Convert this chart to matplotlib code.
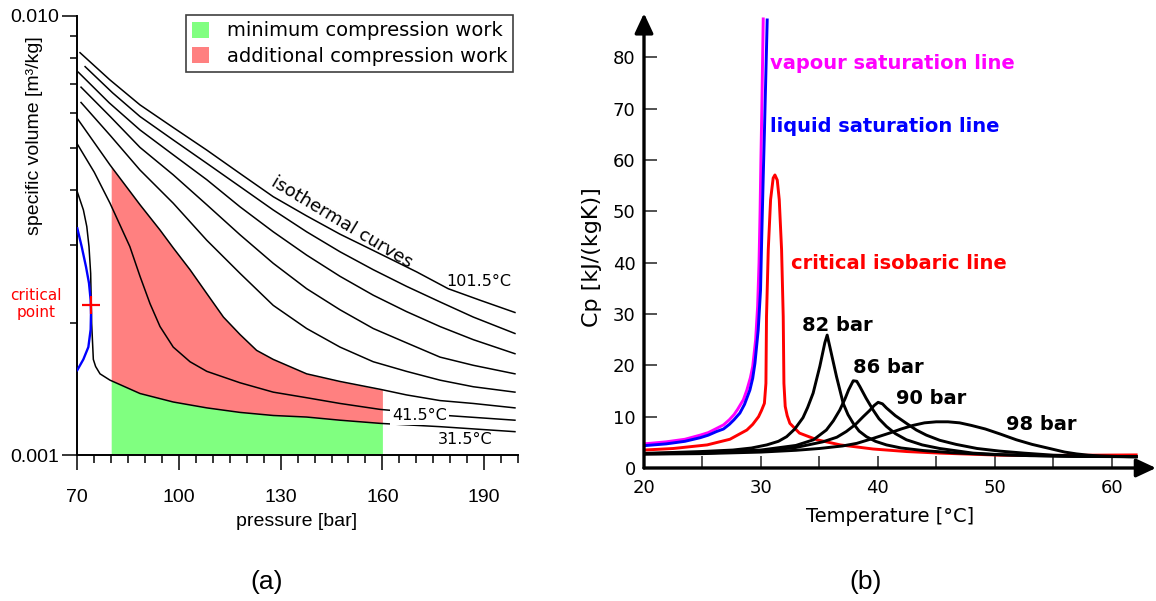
import numpy as np
import matplotlib
matplotlib.use('Agg')
import matplotlib.pyplot as plt
from matplotlib.patches import Patch
from matplotlib.ticker import MultipleLocator, LogLocator, NullFormatter

# ---- (a) specific volume vs pressure, isotherms ----
# pressure in bar, specific volume in 1e-3 m3/kg
p_315 = [70.0, 71.8, 72.8, 73.45, 73.94, 74.1, 74.24, 74.73, 75.4, 76.7, 79.65, 88.5, 98.3,
         108.2, 118.0, 127.8, 137.65, 147.5, 159.5, 177.0, 199.1]
v_315 = [3.97, 3.61, 3.31, 2.98, 2.59, 2.25, 1.99, 1.65, 1.59, 1.53, 1.48, 1.38, 1.32,
         1.28, 1.25, 1.23, 1.22, 1.20, 1.18, 1.16, 1.13]

p_415 = [70.0, 75.0, 79.65, 85.5, 88.5, 91.45, 94.4, 98.3, 103.25, 108.2, 118.0, 127.8, 137.65,
         147.5, 159.3, 178.9, 199.1]
v_415 = [5.10, 4.40, 3.74, 2.98, 2.55, 2.21, 1.96, 1.76, 1.63, 1.55, 1.46, 1.39, 1.35,
         1.31, 1.27, 1.23, 1.20]

p_515 = [70.0, 79.65, 88.5, 94.4, 98.3, 103.25, 108.2, 113.1, 118.0, 122.9, 127.8, 137.65,
         147.5, 159.5, 167.1, 177.0, 186.8, 199.1]
v_515 = [5.83, 4.57, 3.71, 3.25, 2.96, 2.64, 2.33, 2.06, 1.88, 1.73, 1.65, 1.53,
         1.47, 1.41, 1.37, 1.33, 1.31, 1.28]

p_615 = [71.1, 79.85, 88.5, 98.3, 108.2, 118.0, 127.8, 137.65, 147.5, 157.3, 167.1, 177.0, 186.8, 199.1]
v_615 = [6.34, 5.32, 4.45, 3.74, 3.08, 2.59, 2.19, 1.94, 1.76, 1.63, 1.55, 1.48, 1.43, 1.39]

p_715 = [71.1, 79.8, 88.5, 98.3, 108.2, 118.0, 127.8, 137.65, 147.5, 157.3, 167.1, 177.0, 186.8, 199.1]
v_715 = [6.87, 5.88, 5.01, 4.34, 3.71, 3.17, 2.73, 2.39, 2.14, 1.94, 1.80, 1.67, 1.60, 1.53]

p_815 = [70.3, 79.4, 88.5, 98.3, 108.2, 118.0, 127.8, 137.65, 147.5, 157.3, 167.1, 177.0, 186.8, 199.1]
v_815 = [7.43, 6.33, 5.49, 4.82, 4.23, 3.67, 3.22, 2.85, 2.55, 2.31, 2.12, 1.96, 1.83, 1.70]

p_915 = [72.3, 80.4, 88.5, 98.3, 108.2, 118.0, 127.8, 137.65, 147.5, 157.3, 167.1, 177.0, 186.8, 199.1]
v_915 = [7.65, 6.67, 5.89, 5.21, 4.61, 4.08, 3.61, 3.22, 2.90, 2.64, 2.42, 2.23, 2.06, 1.89]

p_1015 = [70.8, 79.5, 88.5, 98.3, 108.2, 118.0, 127.8, 137.65, 147.5, 157.3, 170.1, 179.4, 188.8, 199.1]
v_1015 = [8.23, 7.15, 6.26, 5.56, 4.94, 4.37, 3.87, 3.50, 3.18, 2.92, 2.61, 2.39, 2.25, 2.11]

# saturation dome and critical point
p_dome = [70.0, 71.29, 72.57, 73.45, 73.94, 74.04, 73.94, 73.26, 71.78, 70.0]
v_dome = [3.28, 2.98, 2.68, 2.46, 2.25, 2.10, 1.93, 1.76, 1.65, 1.56]
p_crit, v_crit = 73.94, 2.19

# compression work band [bar]
p_work = (80.0, 160.0)

# ---- (b) Cp vs temperature [degC, kJ/(kgK)] ----
T_vap = [20.0, 21.9, 23.5, 24.8, 25.5, 26.2, 26.8, 27.3, 27.7, 28.0, 28.5, 28.8, 29.1, 29.3,
         29.55, 29.72, 29.84, 29.93, 30.0, 30.08, 30.2]
cp_vap = [4.7, 5.1, 5.6, 6.4, 6.9, 7.7, 8.4, 9.4, 10.4, 11.4, 13.3, 15.2, 17.6, 19.8,
          25.0, 31.5, 40.0, 50.0, 60.0, 70.0, 87.5]

T_liq = [20.0, 21.9, 23.5, 24.8, 25.5, 26.2, 26.8, 27.3, 27.7, 28.2, 28.6, 29.06, 29.3, 29.49,
         29.77, 29.97, 30.08, 30.2, 30.3, 30.54]
cp_liq = [4.35, 4.7, 5.2, 5.9, 6.4, 7.1, 7.6, 8.5, 9.4, 10.7, 12.4, 15.2, 17.5, 20.4,
          26.9, 34.7, 45.8, 56.8, 65.3, 87.3]

T_crit = [20.0, 22.5, 25.4, 27.35, 28.8, 29.3, 29.8, 30.05, 30.3, 30.43, 30.48, 30.63, 30.83, 31.05,
          31.2, 31.4, 31.57, 31.77, 31.91, 31.97, 32.08, 32.25, 32.48, 33.3, 34.8, 36.8, 39.6,
          42.5, 45.3, 50.4, 55.0, 62.1]
cp_crit = [3.5, 3.8, 4.5, 5.6, 7.4, 8.5, 10.0, 11.2, 12.6, 16.5, 29.5, 42.5, 52.3, 56.5,
           57.1, 56.1, 52.3, 42.5, 29.5, 16.5, 12.0, 10.2, 8.7, 6.8, 5.5, 4.5, 3.7,
           3.2, 2.9, 2.5, 2.45, 2.55]

T_82 = [20, 24.8, 27.6, 29.2, 30.5, 31.5, 32.2, 32.9, 33.6, 34.0, 34.47, 35.04, 35.47, 35.67,
        35.9, 36.47, 37.04, 37.45, 37.9, 38.4, 39.03, 39.8, 40.74, 42.0, 43.9, 46.5, 50, 56, 62.1]
cp_82 = [2.85, 3.2, 3.5, 3.9, 4.5, 5.2, 6.1, 7.6, 9.8, 11.8, 14.6, 19.8, 24.4, 25.9,
         23.6, 17.8, 12.6, 10.4, 8.7, 7.2, 6.1, 5.2, 4.5, 3.9, 3.4, 2.95, 2.6, 2.3, 2.2]

T_86 = [20, 25, 30, 33, 34.5, 35.6, 36.2, 36.75, 37.2, 37.5, 37.9, 38.2, 38.46, 39.0, 39.6,
        40.1, 40.74, 41.5, 42.45, 43.8, 45.3, 48.15, 50.5, 53, 57, 62.1]
cp_86 = [2.8, 3.0, 3.5, 4.4, 5.5, 7.4, 9.2, 11.3, 13.5, 15.2, 17.0, 16.9, 15.9, 13.6, 11.3,
         9.6, 8.1, 6.7, 5.5, 4.5, 3.8, 2.9, 2.6, 2.4, 2.25, 2.2]

T_90 = [20, 25, 30, 33, 35.3, 36.5, 37.3, 38.1, 38.75, 39.3, 39.7, 40.03, 40.4, 40.74, 41.5,
        42.45, 43.3, 44.16, 45.3, 46.7, 48.5, 50.4, 52.5, 55, 58, 62.1]
cp_90 = [2.75, 2.9, 3.3, 4.0, 5.1, 6.0, 7.1, 8.5, 10.0, 11.2, 12.2, 12.8, 12.5, 11.7, 10.2,
         8.7, 7.4, 6.4, 5.4, 4.6, 3.8, 3.3, 2.9, 2.5, 2.3, 2.2]

T_98 = [20, 25, 30, 33, 35, 37, 38.2, 39.5, 41.0, 42, 43.0, 44, 45.0, 46, 47.0, 48, 49.2, 50.5,
        51.85, 53.2, 54.7, 56, 57.0, 58, 59.0, 60.5, 62.1]
cp_98 = [2.7, 2.8, 3.1, 3.45, 3.8, 4.3, 4.8, 5.7, 6.8, 7.6, 8.3, 8.8, 9.0, 9.0, 8.8, 8.3, 7.6, 6.6,
         5.5, 4.6, 3.8, 3.1, 2.75, 2.5, 2.35, 2.25, 2.2]

W, H = 1156, 601


def fx(x):
    return x / W


def fy(y):
    return 1 - y / H


fig = plt.figure(figsize=(W / 100, H / 100), dpi=100)

# ================= (a) =================
ax1 = fig.add_axes([fx(77.3), fy(455), (518 - 77.3) / W, (455 - 15.5) / H])
ax1.set_yscale('log')
ax1.set_xlim(70, 200)
ax1.set_ylim(0.001, 0.01)

# shaded work regions, bounded by the 31.5 and 51.5 degC isotherms
pg = np.linspace(p_work[0], p_work[1], 300)
v_low = 1e-3 * 10 ** np.interp(pg, p_315, np.log10(v_315))
v_up = 1e-3 * 10 ** np.interp(pg, p_515, np.log10(v_515))
ax1.fill_between(pg, 0.001, v_low, color='#80ff80', lw=0, zorder=1)
ax1.fill_between(pg, v_low, v_up, color='#ff8080', lw=0, zorder=1)

isotherms = [(p_315, v_315), (p_415, v_415), (p_515, v_515), (p_615, v_615),
             (p_715, v_715), (p_815, v_815), (p_915, v_915), (p_1015, v_1015)]
for p, v in isotherms:
    ax1.plot(p, np.array(v) * 1e-3, color='black', lw=1.1, zorder=3)

ax1.plot(p_dome, np.array(v_dome) * 1e-3, color='#0000ff', lw=1.7, zorder=4)
ax1.plot(p_crit, v_crit * 1e-3, marker='+', color='red', ms=13, mew=1.6, zorder=5)

for s in ['top', 'right']:
    ax1.spines[s].set_visible(False)
for s in ['left', 'bottom']:
    ax1.spines[s].set_linewidth(1.4)

ax1.set_xticks([70, 100, 130, 160, 190])
ax1.xaxis.set_minor_locator(MultipleLocator(5))
ax1.set_yticks([0.001, 0.01], labels=['0.001', '0.010'])
ax1.yaxis.set_minor_locator(LogLocator(base=10, subs=np.arange(2, 10)))
ax1.yaxis.set_minor_formatter(NullFormatter())
ax1.tick_params(axis='x', which='major', length=10.5, width=1.1, pad=14,
                labelsize=14, labelfontfamily='Liberation Sans')
ax1.tick_params(axis='x', which='minor', length=5.4, width=1.1)
ax1.tick_params(axis='y', which='major', length=10.5, width=1.1, pad=2.5,
                labelsize=14, labelfontfamily='Liberation Sans')
ax1.tick_params(axis='y', which='minor', length=5.4, width=1.1)

leg = ax1.legend([Patch(fc='#80ff80', ec='none'), Patch(fc='#ff8080', ec='none')],
                 ['minimum compression work', 'additional compression work'],
                 loc='upper right', bbox_to_anchor=(0.989, 1.0), fontsize=14,
                 fancybox=False, edgecolor='#404040', framealpha=1,
                 borderpad=0.3, handlelength=0.9, handleheight=0.9,
                 handletextpad=0.9, labelspacing=0.35, borderaxespad=0)
leg.get_frame().set_linewidth(1.2)

fig.text(fx(35), fy(136), 'specific volume [m³/kg]', rotation=90, ha='center', va='center',
         fontsize=14, family='Liberation Sans')
fig.text(fx(297), fy(521), 'pressure [bar]', ha='center', va='center',
         fontsize=14, family='Liberation Sans')
fig.text(fx(342), fy(222), 'isothermal curves', rotation=-31, ha='center', va='center', fontsize=13)
fig.text(fx(479), fy(281), '101.5°C', ha='center', va='center', fontsize=11.5)
fig.text(fx(419.5), fy(415), '41.5°C', ha='center', va='center', fontsize=11.5,
         bbox=dict(fc='white', ec='none', pad=1.5), zorder=6)
fig.text(fx(465), fy(440), '31.5°C', ha='center', va='center', fontsize=11.5)
fig.text(fx(36), fy(304), 'critical\npoint', ha='center', va='center', fontsize=11,
         color='red', linespacing=1.15)
fig.text(fx(267), fy(582), '(a)', ha='center', va='center', fontsize=19, family='Liberation Sans')

# ================= (b) =================
ax2 = fig.add_axes([fx(644), fy(468), (W - 644) / W, (468 - 13.3) / H])
ax2.set_xlim(20, 63.8)
ax2.set_ylim(0, 88.6)
for s in ax2.spines.values():
    s.set_visible(False)

arrow = dict(arrowstyle='-|>,head_length=0.6,head_width=0.28', lw=2.4, color='black',
             mutation_scale=20, shrinkA=0, shrinkB=0)
ax2.annotate('', xy=(1, 0), xytext=(0, 0), xycoords='axes fraction', arrowprops=arrow,
             annotation_clip=False)
ax2.annotate('', xy=(0, 1), xytext=(0, 0), xycoords='axes fraction', arrowprops=arrow,
             annotation_clip=False)

ax2.plot(T_vap, cp_vap, color='#ff00ff', lw=2.1)
ax2.plot(T_liq, cp_liq, color='#0000ff', lw=2.1)
ax2.plot(T_crit, cp_crit, color='#ff0000', lw=2.1)
for T, cp in [(T_82, cp_82), (T_86, cp_86), (T_90, cp_90), (T_98, cp_98)]:
    ax2.plot(T, cp, color='black', lw=2.1)

ax2.set_xticks(np.arange(20, 61, 10))
ax2.xaxis.set_minor_locator(MultipleLocator(5))
ax2.set_yticks(np.arange(0, 81, 10))
ax2.tick_params(which='both', direction='in', length=9, width=1.2, color='#333333')
ax2.tick_params(axis='x', which='major', pad=8, labelsize=13)
ax2.tick_params(axis='y', which='major', pad=6, labelsize=13)

bold = dict(fontsize=14, fontweight='bold', ha='left', va='center')
ax2.text(30.77, 78.8, 'vapour saturation line', color='#ff00ff', **bold)
ax2.text(30.77, 66.5, 'liquid saturation line', color='#0000ff', **bold)
ax2.text(32.54, 39.9, 'critical isobaric line', color='#ff0000', **bold)
ax2.text(33.48, 27.7, '82 bar', color='black', **bold)
ax2.text(37.89, 19.6, '86 bar', color='black', **bold)
ax2.text(41.54, 13.45, '90 bar', color='black', **bold)
ax2.text(50.94, 8.4, '98 bar', color='black', **bold)

fig.text(fx(592), fy(257.5), 'Cp [kJ/(kgK)]', rotation=90, ha='center', va='center', fontsize=16)
fig.text(fx(890), fy(517), 'Temperature [°C]', ha='center', va='center', fontsize=14)
fig.text(fx(866), fy(582), '(b)', ha='center', va='center', fontsize=19, family='Liberation Sans')

fig.savefig('out.png', dpi=100)
